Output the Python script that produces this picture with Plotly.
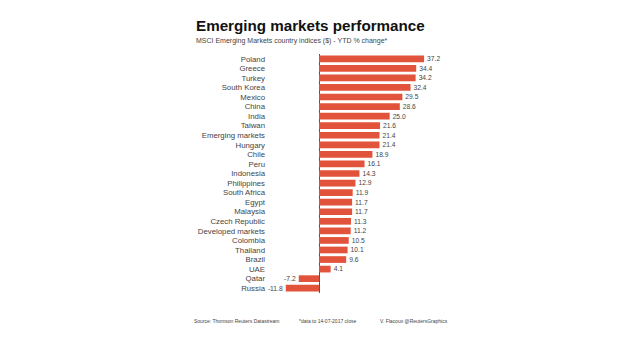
import plotly.graph_objects as go

countries = ["Poland", "Greece", "Turkey", "South Korea", "Mexico", "China", "India",
             "Taiwan", "Emerging markets", "Hungary", "Chile", "Peru", "Indonesia",
             "Philippines", "South Africa", "Egypt", "Malaysia", "Czech Republic",
             "Developed markets", "Colombia", "Thailand", "Brazil", "UAE", "Qatar", "Russia"]
values = [37.2, 34.4, 34.2, 32.4, 29.5, 28.6, 25.0, 21.6, 21.4, 21.4, 18.9, 16.1, 14.3,
          12.9, 11.9, 11.7, 11.7, 11.3, 11.2, 10.5, 10.1, 9.6, 4.1, -7.2, -11.8]
value_labels = [f"{v:.1f}" for v in values]

title = "Emerging markets performance"
subtitle = "MSCI Emerging Markets country indices ($) - YTD % change*"
footer = ["Source: Thomson Reuters Datastream", "*data to 14-07-2017 close",
          "V. Flacoux @ReutersGraphics"]

L, R, T, B = 266, 188, 54, 62
W, H = 620, 355

fig = go.Figure(go.Bar(
    x=values, y=countries, orientation="h",
    marker=dict(color="#E1533A", line=dict(width=0)),
    text=value_labels, textposition="outside", cliponaxis=False,
    textfont=dict(size=7, color="#444444", family="Arial"),
    hoverinfo="skip",
))

fig.update_layout(
    width=W, height=H,
    margin=dict(l=L, r=R, t=T, b=B),
    paper_bgcolor="white", plot_bgcolor="white",
    bargap=0.3,
    showlegend=False,
    font=dict(family="Arial", color="#444444"),
    xaxis=dict(range=[-18.8, 40], showgrid=False, showticklabels=False,
               zeroline=True, zerolinecolor="#555555", zerolinewidth=1, fixedrange=True),
    yaxis=dict(autorange="reversed", showgrid=False, ticks="", fixedrange=True,
               tickfont=dict(size=7.8, color="#444444", family="Arial")),
)

ann = [
    dict(text="<b>" + title + "</b>", x=194, y=H - 26, font=dict(size=15.2, color="#111111")),
    dict(text=subtitle, x=194, y=H - 41.5, font=dict(size=7, color="#444444")),
    dict(text=footer[0], x=192, y=H - 321, font=dict(size=5, color="#444444")),
    dict(text=footer[1], x=297, y=H - 321, font=dict(size=5, color="#444444")),
    dict(text=footer[2], x=378, y=H - 321, font=dict(size=5, color="#444444")),
]
for a in ann:
    fig.add_annotation(text=a["text"], xref="paper", yref="paper",
                       x=(a["x"] - L) / (W - L - R),
                       y=(a["y"] - B) / (H - T - B),
                       xanchor="left", yanchor="middle", showarrow=False,
                       font=dict(family="Arial", **a["font"]))

fig.write_html("out.html", config={"displayModeBar": False},
               post_script="document.body.style.margin='0';")
